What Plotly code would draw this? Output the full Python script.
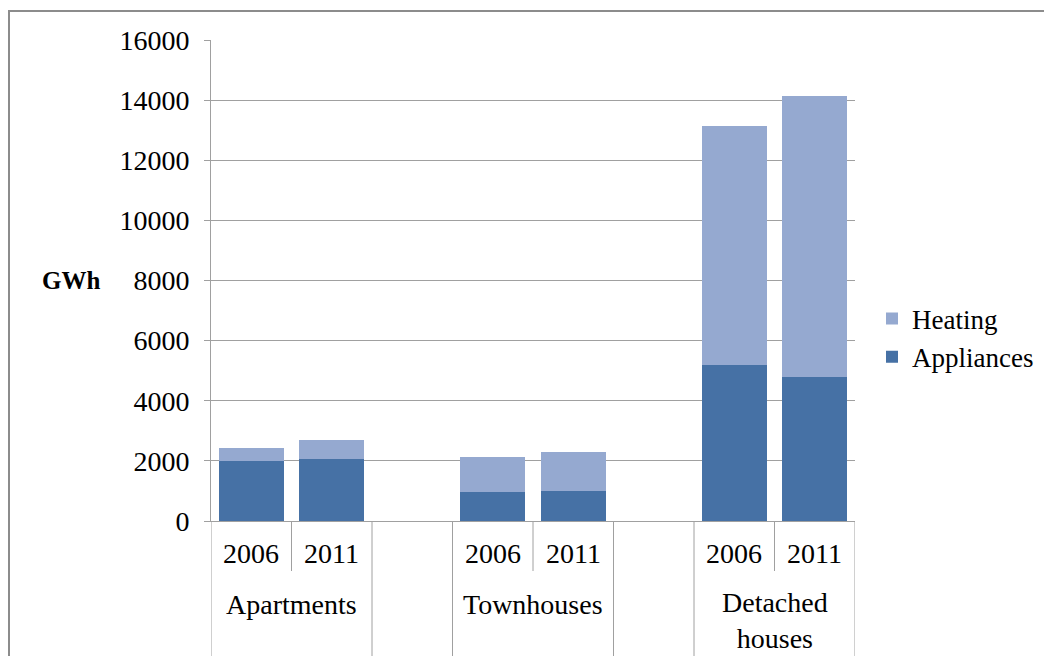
import plotly.graph_objects as go

# ---- data ----
slots = ["Apartments 2006", "Apartments 2011", "gap1",
         "Townhouses 2006", "Townhouses 2011", "gap2",
         "Detached 2006", "Detached 2011"]
year_labels = ["2006", "2011", "", "2006", "2011", "", "2006", "2011"]
group_labels = ["Apartments", "Townhouses", "Detached<br>houses"]
group_centers = [0.5, 3.5, 6.5]
appliances = [2000, 2070, None, 980, 1010, None, 5200, 4800]
heating = [420, 630, None, 1160, 1290, None, 7950, 9350]

FONT = "Liberation Serif"
GRID = "#A0A0A0"

fig = go.Figure()
fig.add_trace(go.Bar(x=slots, y=appliances, name="Appliances",
                     marker=dict(color="#4671A5", line=dict(width=0)),
                     width=0.81, legendgroup="a"))
fig.add_trace(go.Bar(x=slots, y=heating, name="Heating",
                     marker=dict(color="#95A9D0", line=dict(width=0)),
                     width=0.81, legendgroup="b"))

OFF = 8  # page body margin
W, H = 1052 - OFF, 656 - OFF
L, T = 211 - OFF, 40 - OFF
R = W - (855 - OFF)
B = H - (521 - OFF)
pw, ph = W - L - R, H - T - B

def px2paper_x(px):  # px in page coordinates
    return (px - OFF - L) / pw

def py2paper_y(py):
    return (H - B - (py - OFF)) / ph

shapes = []
full = [-0.5, 1.5, 2.5, 4.5, 5.5, 7.5]
short = [0.5, 3.5, 6.5]
for xv in full:
    shapes.append(dict(type="line", xref="x", yref="paper", x0=xv, x1=xv,
                       y0=0, y1=py2paper_y(660), line=dict(color=GRID, width=1)))
for xv in short:
    shapes.append(dict(type="line", xref="x", yref="paper", x0=xv, x1=xv,
                       y0=0, y1=py2paper_y(571), line=dict(color=GRID, width=1)))
# outer chart border (left and top visible)
shapes.append(dict(type="rect", xref="paper", yref="paper",
                   x0=px2paper_x(9), x1=px2paper_x(1070),
                   y0=py2paper_y(670), y1=py2paper_y(11),
                   line=dict(color="#8C8C8C", width=2), fillcolor="rgba(0,0,0,0)"))

annotations = []
for i, yl in enumerate(year_labels):
    if yl:
        annotations.append(dict(x=i, y=py2paper_y(553), xref="x", yref="paper",
                                text=yl, showarrow=False, yanchor="middle",
                                font=dict(family=FONT, size=28, color="black")))
for gx, gl in zip(group_centers, group_labels):
    yc = 620 if "<br>" in gl else 604
    annotations.append(dict(x=gx, y=py2paper_y(yc), xref="x", yref="paper",
                            text=gl, showarrow=False, yanchor="middle",
                            font=dict(family=FONT, size=28, color="black")))
annotations.append(dict(x=px2paper_x(71), y=8000, xref="paper", yref="y",
                        text="<b>GWh</b>", showarrow=False, yanchor="middle",
                        xanchor="center",
                        font=dict(family=FONT, size=25, color="black")))

fig.update_layout(
    width=W, height=H,
    margin=dict(l=L, r=R, t=T, b=B, pad=0),
    paper_bgcolor="white", plot_bgcolor="white",
    barmode="stack", bargap=0.19,
    font=dict(family=FONT, size=28, color="black"),
    xaxis=dict(type="category", categoryorder="array", categoryarray=slots,
               showticklabels=False, ticks="", showgrid=False, zeroline=False,
               showline=True, linecolor=GRID, linewidth=1, range=[-0.5, 7.5]),
    yaxis=dict(range=[0, 16000], dtick=2000, tickformat="d",
               showgrid=True, gridcolor=GRID, gridwidth=1,
               ticks="outside", ticklen=6, tickcolor=GRID,
               showline=True, linecolor=GRID, linewidth=1, zeroline=False,
               ticklabelstandoff=9,
               tickfont=dict(family=FONT, size=28, color="black")),
    legend=dict(x=px2paper_x(872), y=py2paper_y(338), xanchor="left", yanchor="middle",
                traceorder="reversed", tracegroupgap=13, itemwidth=30,
                font=dict(family=FONT, size=27, color="black"),
                bgcolor="rgba(0,0,0,0)"),
    shapes=shapes, annotations=annotations,
)

fig.write_html("out.html")
